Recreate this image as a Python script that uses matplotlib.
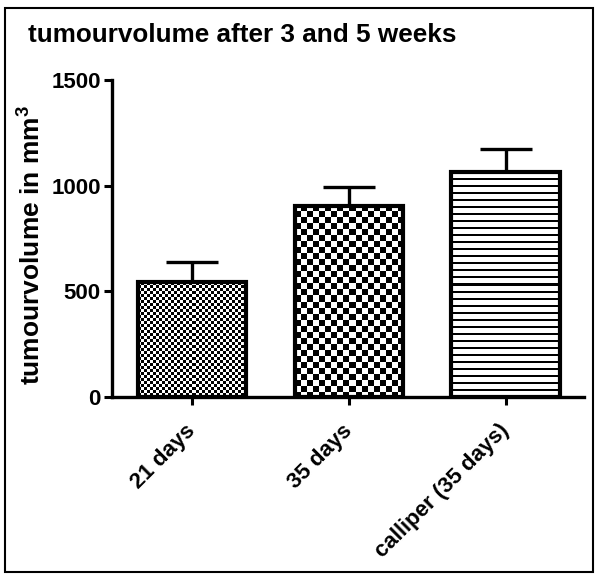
import matplotlib
matplotlib.use("Agg")
import matplotlib.pyplot as plt
import numpy as np
from matplotlib.patches import Rectangle

plt.rcParams["font.family"] = ["Liberation Sans", "DejaVu Sans"]
plt.rcParams["font.weight"] = "bold"
plt.rcParams["mathtext.fontset"] = "custom"
plt.rcParams["mathtext.bf"] = "Liberation Sans:bold"
plt.rcParams["mathtext.rm"] = "Liberation Sans:bold"
plt.rcParams["mathtext.default"] = "bf"

categories = ["21 days", "35 days", "calliper (35 days)"]
means = [543, 906, 1067]
errors = [96, 86, 108]
patterns = ["fine", "coarse", "lines"]

fig = plt.figure(figsize=(6, 5.8), dpi=100)
ax = fig.add_axes([0.1867, 0.3155, 0.7866, 0.5465])

x = np.arange(len(categories))
bars = ax.bar(x, means, width=0.69, facecolor="none", edgecolor="black", linewidth=3, zorder=3)
ax.errorbar(x, means, yerr=[np.zeros(len(errors)), errors], fmt="none", ecolor="black",
            elinewidth=2.4, capsize=19, capthick=2.4, zorder=2)

ax.set_xlim(-0.51, 2.5)
ax.set_ylim(0, 1500)
ax.set_yticks([0, 500, 1000, 1500])
ax.set_xticks(x)
ax.set_xticklabels(categories, rotation=45, ha="right", va="center", rotation_mode="anchor",
                   fontsize=16, fontweight="bold")
ax.tick_params(axis="y", labelsize=16, width=2.2, length=6, pad=2)
ax.tick_params(axis="x", width=2.2, length=6, pad=16)
for lbl in ax.get_yticklabels():
    lbl.set_fontweight("bold")
for s in ["top", "right"]:
    ax.spines[s].set_visible(False)
for s in ["left", "bottom"]:
    ax.spines[s].set_linewidth(2.4)
ax.set_ylabel("tumourvolume in mm$^{3}$", fontsize=19, fontweight="bold")
ax.yaxis.set_label_coords(-0.14, 0.48)

# fill the bars with pixel patterns (checkerboards and stripes)
fig.canvas.draw()
for bar, pat in zip(bars, patterns):
    x0, y0 = bar.get_x(), 0
    x1, y1 = x0 + bar.get_width(), bar.get_height()
    p0 = ax.transData.transform((x0, y0))
    p1 = ax.transData.transform((x1, y1))
    w, h = int(round(p1[0] - p0[0])), int(round(p1[1] - p0[1]))
    yy, xx = np.mgrid[0:h, 0:w]
    if pat == "fine":
        img = ((xx // 3 + yy // 3) % 2).astype(float)
    elif pat == "coarse":
        img = ((xx // 6 + yy // 6) % 2).astype(float)
    else:
        img = ((yy % 7) < 2).astype(float)
    im = ax.imshow(1 - img, cmap="gray", vmin=0, vmax=1, extent=(x0, x1, y0, y1),
                   aspect="auto", interpolation="none", zorder=2.5)
    im.set_clip_path(bar)

ax.set_xlim(-0.51, 2.5)
ax.set_ylim(0, 1500)

fig.text(0.047, 0.94, "tumourvolume after 3 and 5 weeks", fontsize=18.8, fontweight="bold", va="center")
fig.patches.append(Rectangle((0.008, 0.014), 0.98, 0.972, transform=fig.transFigure,
                             fill=False, edgecolor="black", linewidth=1.5))

fig.savefig("out.png", dpi=100)
